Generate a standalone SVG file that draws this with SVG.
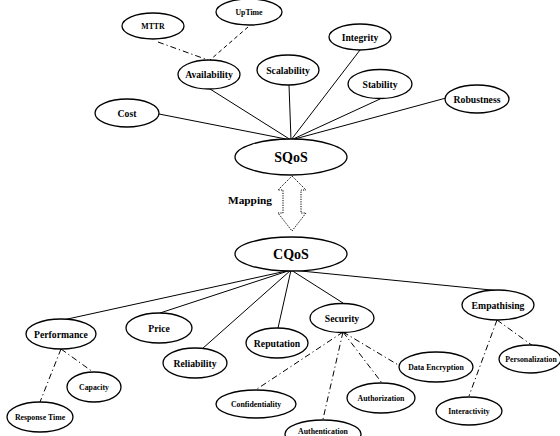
<svg xmlns="http://www.w3.org/2000/svg" width="560" height="436" viewBox="0 0 560 436">
<style>
ellipse{fill:#fff;stroke:#000;stroke-width:1.3}
text{font-family:"Liberation Serif","Times New Roman",serif;font-weight:bold;text-anchor:middle;fill:#000}
.m{font-size:9.7px}
.s{font-size:7.8px}
.b{font-size:14px}
.l{font-size:11.3px}
line{stroke:#000;stroke-width:1}
.dd{stroke-dasharray:6,3,1.2,3}
.da{stroke-dasharray:4,3}
</style>
<rect width="560" height="436" fill="#fff"/>
<g id="connectors">
<line x1="158" y1="42" x2="208" y2="60" class="dd"/>
<line x1="248" y1="27" x2="210" y2="60" class="da"/>
<line x1="159" y1="114" x2="291" y2="140"/>
<line x1="210" y1="89" x2="291" y2="140"/>
<line x1="289" y1="85" x2="291" y2="140"/>
<line x1="360" y1="50" x2="291" y2="140"/>
<line x1="380" y1="99" x2="291" y2="140"/>
<line x1="446" y1="98" x2="291" y2="140"/>
<line x1="291" y1="270" x2="63" y2="320"/>
<line x1="291" y1="270" x2="160" y2="313"/>
<line x1="291" y1="270" x2="202" y2="349"/>
<line x1="291" y1="270" x2="278" y2="328"/>
<line x1="291" y1="270" x2="343" y2="303"/>
<line x1="291" y1="270" x2="501" y2="291"/>
<line x1="61" y1="349" x2="40" y2="402" class="dd"/>
<line x1="61" y1="349" x2="93" y2="372" class="dd"/>
<line x1="343" y1="332" x2="257" y2="389" class="dd"/>
<line x1="343" y1="332" x2="323" y2="419" class="dd"/>
<line x1="343" y1="332" x2="382" y2="383" class="dd"/>
<line x1="343" y1="332" x2="400" y2="366" class="dd"/>
<line x1="497" y1="320" x2="469" y2="396" class="dd"/>
<line x1="497" y1="320" x2="533" y2="346" class="dd"/>
<path id="mapping-arrow" d="M292,176 L306,190 L301,190 L301,213 L306,213 L292,231 L278,213 L283,213 L283,190 L278,190 Z" fill="#fff" stroke="#000" stroke-width="1" stroke-dasharray="1.2,1.2"/>
</g>
<text x="250" y="204" class="l">Mapping</text>
<g id="MTTR"><ellipse cx="153" cy="26" rx="31" ry="13"/><text x="153" y="29" class="s">MTTR</text></g>
<g id="UpTime"><ellipse cx="249" cy="12" rx="33" ry="13"/><text x="249" y="15" class="s">UpTime</text></g>
<g id="Availability"><ellipse cx="209" cy="74.5" rx="31" ry="14.5"/><text x="209" y="78" class="m">Availability</text></g>
<g id="Scalability"><ellipse cx="288" cy="70" rx="31" ry="15"/><text x="288" y="73.5" class="m">Scalability</text></g>
<g id="Cost"><ellipse cx="127" cy="113" rx="32" ry="14"/><text x="127" y="116.5" class="m">Cost</text></g>
<g id="Integrity"><ellipse cx="360" cy="37" rx="31" ry="13"/><text x="360" y="40.5" class="m">Integrity</text></g>
<g id="Stability"><ellipse cx="380" cy="84" rx="32" ry="14.5"/><text x="380" y="87.5" class="m">Stability</text></g>
<g id="Robustness"><ellipse cx="477" cy="99" rx="32" ry="14"/><text x="477" y="102.5" class="m">Robustness</text></g>
<g id="SQoS"><ellipse cx="291" cy="157" rx="56" ry="18"/><text x="291" y="162" class="b">SQoS</text></g>
<g id="CQoS"><ellipse cx="291" cy="254" rx="56" ry="17"/><text x="291" y="259" class="b">CQoS</text></g>
<g id="Performance"><ellipse cx="61" cy="334" rx="35" ry="15"/><text x="61" y="337.5" class="m">Performance</text></g>
<g id="Price"><ellipse cx="159" cy="328" rx="33" ry="15"/><text x="159" y="331.5" class="m">Price</text></g>
<g id="Reliability"><ellipse cx="195" cy="363" rx="32" ry="15"/><text x="195" y="366.5" class="m">Reliability</text></g>
<g id="Reputation"><ellipse cx="277" cy="343" rx="31" ry="15"/><text x="277" y="346.5" class="m">Reputation</text></g>
<g id="Security"><ellipse cx="342" cy="318" rx="32" ry="14.5"/><text x="342" y="321.5" class="m">Security</text></g>
<g id="Empathising"><ellipse cx="498" cy="305" rx="36" ry="15"/><text x="498" y="308.5" class="m">Empathising</text></g>
<g id="Capacity"><ellipse cx="94" cy="387" rx="27" ry="15"/><text x="94" y="390" class="s">Capacity</text></g>
<g id="ResponseTime"><ellipse cx="40" cy="417" rx="33" ry="15"/><text x="40" y="420" class="s">Response Time</text></g>
<g id="Confidentiality"><ellipse cx="256" cy="404" rx="40" ry="14"/><text x="256" y="407" class="s">Confidentiality</text></g>
<g id="Authentication"><ellipse cx="323" cy="434" rx="38" ry="14"/><text x="323" y="434" class="s">Authentication</text></g>
<g id="Authorization"><ellipse cx="381" cy="398" rx="34" ry="15"/><text x="381" y="401" class="s">Authorization</text></g>
<g id="DataEncryption"><ellipse cx="436" cy="367" rx="37" ry="15"/><text x="436" y="370" class="s">Data Encryption</text></g>
<g id="Interactivity"><ellipse cx="469" cy="411" rx="33" ry="14"/><text x="469" y="414" class="s">Interactivity</text></g>
<g id="Personalization"><ellipse cx="530" cy="359" rx="31" ry="14"/><text x="531" y="362" class="s">Personalization</text></g>
</svg>
